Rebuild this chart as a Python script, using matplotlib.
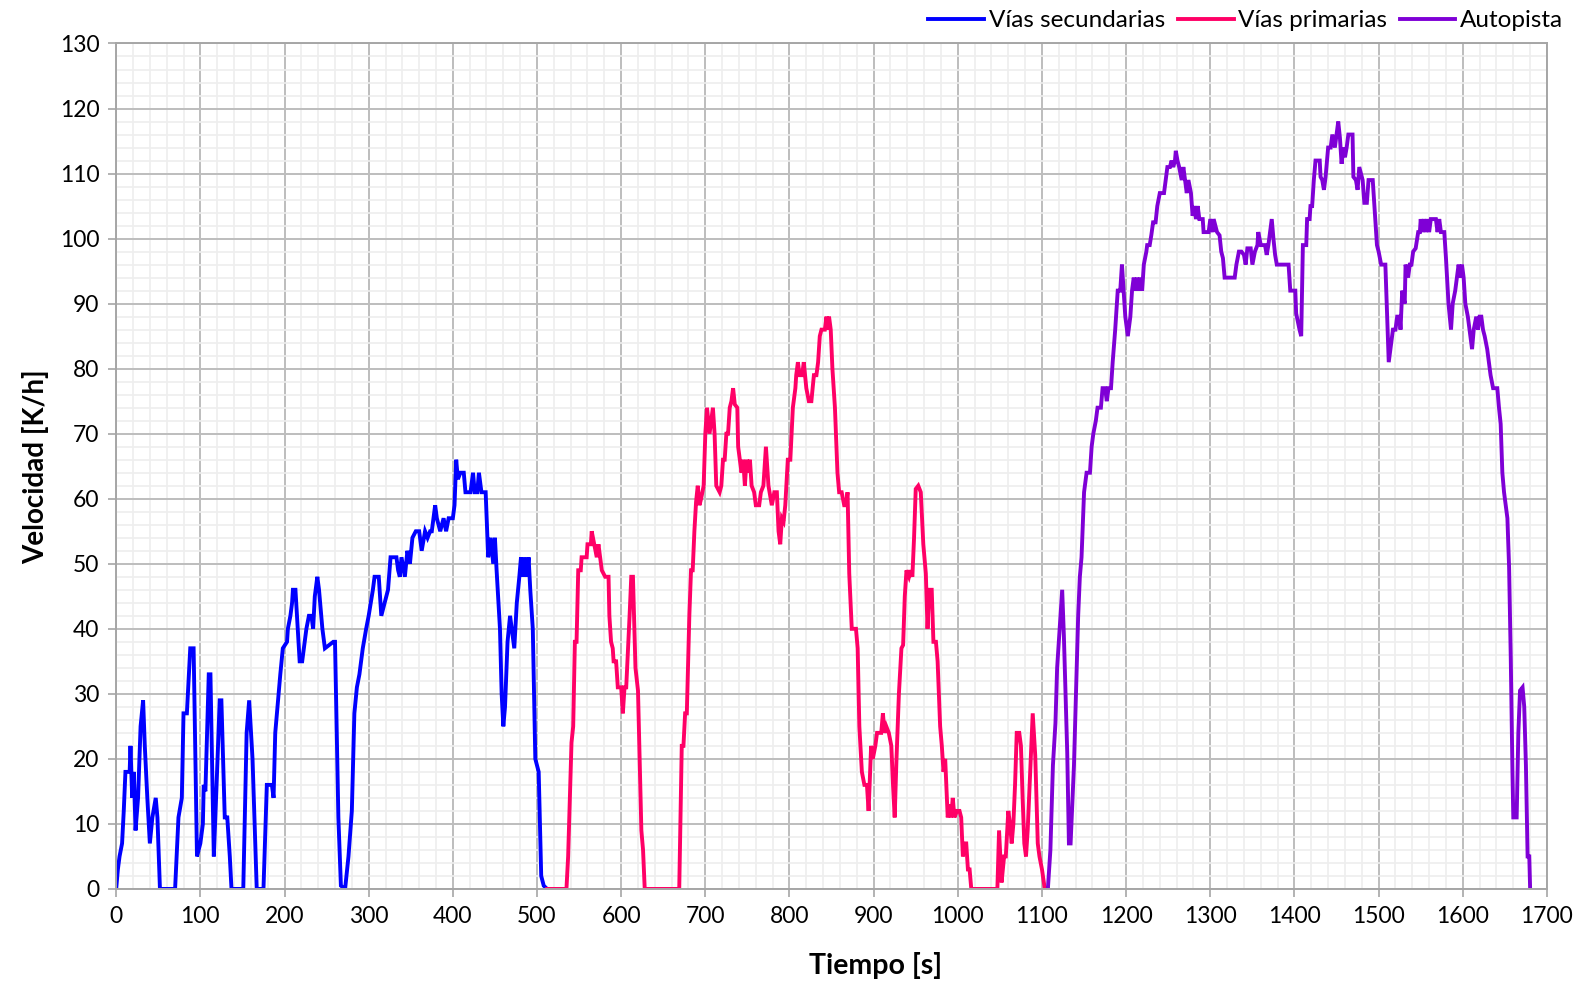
import matplotlib
matplotlib.use("Agg")
import matplotlib.pyplot as plt
from matplotlib.ticker import MultipleLocator

plt.rcParams['font.family'] = ['Lato', 'DejaVu Sans']

# Vías secundarias
t_sec = [0, 2, 4, 7, 9, 11, 16, 17, 19, 21, 23, 26, 29, 32, 34, 37, 40, 43, 47, 49,
         52, 70, 74, 78, 80, 84, 88, 92, 96, 100, 103, 104, 106, 110, 112, 116, 119,
         123, 125, 129, 132, 135, 137, 151, 155, 158, 162, 167, 175, 179, 185, 187,
         189, 193, 195, 198, 203, 204, 207, 209, 210, 213, 218, 221, 224, 226, 229,
         232, 234, 236, 239, 241, 245, 248, 258, 260, 264, 267, 272, 276, 280, 283,
         286, 289, 293, 297, 300, 305, 307, 312, 315, 319, 323, 326, 333, 335, 337,
         339, 343, 346, 349, 352, 356, 360, 363, 367, 370, 373, 375, 379, 381, 385,
         389, 392, 395, 400, 402, 404, 406, 409, 413, 415, 421, 424, 426, 429, 431,
         434, 439, 442, 445, 448, 450, 452, 456, 458, 460, 462, 465, 468, 470, 473,
         476, 479, 481, 483, 485, 488, 490, 492, 495, 498, 502, 505, 508, 512]
v_sec = [0, 3, 5, 7, 12, 18, 18, 22, 14, 18, 9, 14, 25, 29, 22, 14, 7, 11, 14, 11,
         0, 0, 11, 14, 27, 27, 37, 37, 5, 7, 10, 16, 15, 33, 33, 5, 15,
         29, 29, 11, 11, 5, 0, 0, 24, 29, 20, 0, 0, 16, 16, 14,
         24, 30, 33, 37, 38, 40, 42, 44, 46, 46, 35, 35, 38, 40, 42,
         42, 40, 45, 48, 46, 40, 37, 38, 38, 11, 0.5, 0, 5, 12, 27,
         31, 33, 37, 40, 42, 46, 48, 48, 42, 44, 46, 51, 51, 49, 48,
         51, 48, 52, 50, 54, 55, 55, 52, 55, 54, 55, 55, 59, 57, 55,
         57, 55, 57, 57, 59, 66, 63, 64, 64, 61, 61, 64, 61, 61, 64,
         61, 61, 51, 54, 50, 54, 49, 40, 30, 25, 28, 38, 42, 40, 37,
         44, 48, 51, 48, 51, 48, 51, 46, 40, 20, 18, 2, 0.5, 0]

# Vías primarias
t_pri = [512, 535, 537, 541, 543, 545, 547, 549, 552, 553, 559, 560, 564, 565, 568,
         571, 573, 575, 577, 581, 585, 586, 588, 590, 591, 594, 596, 600, 602, 604,
         606, 610, 612, 614, 617, 620, 624, 626, 628, 669, 672, 674, 676, 678, 681,
         683, 685, 687, 689, 691, 693, 695, 698, 700, 702, 705, 707, 709, 711, 713,
         717, 719, 721, 723, 725, 727, 729, 731, 733, 735, 738, 739, 741, 743, 745,
         747, 749, 751, 753, 755, 758, 760, 764, 766, 769, 772, 775, 779, 782, 785,
         787, 789, 791, 793, 795, 798, 801, 804, 807, 808, 810, 812, 815, 817, 820,
         823, 826, 829, 832, 834, 836, 838, 842, 844, 845, 847, 849, 851, 854, 857,
         859, 862, 865, 867, 869, 871, 874, 879, 881, 883, 886, 889, 892, 894, 897,
         899, 902, 904, 909, 911, 913, 915, 918, 921, 923, 925, 927, 930, 933, 935,
         937, 939, 942, 944, 946, 948, 950, 953, 956, 959, 962, 964, 966, 969, 971,
         974, 976, 979, 981, 983, 985, 988, 990, 992, 994, 996, 999, 1002, 1004, 1006,
         1008, 1010, 1012, 1014, 1016, 1047, 1049, 1052, 1055, 1057, 1060, 1062, 1064,
         1066, 1068, 1070, 1073, 1075, 1077, 1079, 1081, 1083, 1086, 1089, 1092, 1095,
         1097, 1100, 1103, 1107]
v_pri = [0, 0, 5, 22.5, 25, 38, 38, 49, 49, 51, 51, 53, 53, 55, 53,
         51, 53, 51, 49, 48, 48, 42, 38, 37, 35, 35, 31, 31, 27, 31,
         31, 42, 48, 48, 34, 30.5, 9, 6, 0, 0, 22, 22, 27, 27, 42,
         49, 49, 55, 59.5, 62, 59, 60, 62, 70, 74, 70, 72, 74, 70, 62,
         61, 62, 66, 66, 70, 70, 74, 75, 77, 74.5, 74, 68, 66, 64, 66,
         62, 66, 64, 66, 62, 61, 59, 59, 61, 62, 68, 62, 59, 61, 61,
         55, 53, 57, 56.5, 59, 66, 66, 74, 77, 79, 81, 79, 79, 81, 77,
         75, 75, 79, 79, 81, 85, 86, 86, 88, 86, 88, 86, 80, 74, 64,
         61, 61, 59, 59, 61, 48.5, 40, 40, 37, 25, 18, 16, 16, 12, 22,
         20, 22, 24, 24, 27, 24, 25, 24, 22, 16, 11, 19.5, 30, 37, 37.5,
         45, 49, 48, 49, 48, 54, 61.5, 62, 61, 53, 48.5, 40, 46, 46, 38,
         38, 35, 25, 22, 18, 20, 11, 13, 11, 14, 11, 12, 12, 11, 5,
         7, 7, 3, 3, 0, 0, 9, 1, 5, 5, 12, 10, 7,
         10, 16, 24, 24, 22, 14, 7, 5, 9, 18, 27, 20.5, 7,
         5, 3, 0.3, 0]

# Autopista
t_aut = [1107, 1110, 1113, 1116, 1118, 1121, 1124, 1126, 1130, 1132, 1134, 1138, 1142,
         1143, 1145, 1147, 1150, 1153, 1157, 1159, 1161, 1164, 1166, 1170, 1172, 1175,
         1177, 1179, 1182, 1184, 1187, 1190, 1193, 1195, 1197, 1199, 1202, 1205, 1207,
         1209, 1211, 1213, 1215, 1217, 1219, 1221, 1224, 1225, 1228, 1230, 1232, 1235,
         1237, 1240, 1245, 1247, 1249, 1252, 1254, 1256, 1258, 1259, 1261, 1263, 1266,
         1268, 1270, 1272, 1274, 1277, 1279, 1281, 1283, 1285, 1287, 1291, 1292, 1298,
         1300, 1303, 1304, 1308, 1311, 1313, 1315, 1317, 1329, 1331, 1334, 1337, 1340,
         1342, 1344, 1348, 1350, 1353, 1356, 1357, 1360, 1365, 1367, 1369, 1371, 1373,
         1375, 1377, 1379, 1393, 1395, 1401, 1402, 1406, 1408, 1410, 1414, 1415, 1418,
         1419, 1421, 1423, 1425, 1427, 1430, 1431, 1433, 1435, 1437, 1440, 1443, 1445,
         1448, 1450, 1452, 1454, 1456, 1458, 1460, 1462, 1464, 1469, 1470, 1473, 1475,
         1477, 1481, 1483, 1486, 1488, 1493, 1496, 1498, 1500, 1503, 1508, 1510, 1512,
         1515, 1517, 1520, 1522, 1525, 1526, 1528, 1531, 1532, 1535, 1537, 1539, 1541,
         1544, 1547, 1549, 1550, 1552, 1554, 1556, 1558, 1560, 1562, 1568, 1570, 1572,
         1574, 1578, 1580, 1583, 1586, 1588, 1591, 1593, 1595, 1597, 1599, 1601, 1603,
         1606, 1608, 1611, 1613, 1616, 1618, 1620, 1622, 1624, 1626, 1629, 1631, 1633,
         1636, 1641, 1643, 1645, 1647, 1649, 1651, 1653, 1655, 1657, 1659, 1660, 1664,
         1666, 1668, 1671, 1673, 1675, 1677, 1679, 1680]
v_aut = [0, 6, 19, 25.5, 34, 40, 46, 39, 21, 7, 7, 19, 37.5,
         42, 48, 51, 61, 64, 64, 68, 70, 72, 74, 74, 77, 77,
         75, 77, 77, 81, 86, 92, 92, 96, 92, 88, 85, 88, 92,
         94, 92, 94, 92, 94, 92, 96, 98, 99, 99, 100.6, 102.5, 102.5,
         105, 107, 107, 109, 111, 111, 112, 111, 112, 113.5, 112, 111, 109,
         111, 109, 107, 109, 107, 103.5, 105, 103, 105, 103, 103, 101, 101,
         103, 101, 103, 101, 100.5, 98, 97, 94, 94, 96, 98, 98, 97.5,
         96, 98.5, 98.5, 96, 98, 99, 101, 99, 99, 97.5, 99, 101, 103,
         100, 97.5, 96, 96, 92, 92, 88.5, 86, 85, 99, 99, 103, 103,
         105, 105, 109, 112, 112, 112, 109.5, 109, 107.5, 109.5, 114, 114, 116,
         114, 116, 118, 115.5, 111.5, 114, 112.5, 114, 116, 116, 109.5, 109, 107.5,
         111, 109, 105.5, 105.5, 109, 109, 103, 99, 98, 96, 96, 88.5, 81,
         84, 86, 86, 88, 88, 86, 92, 90, 96, 94, 96, 96, 98,
         98.5, 101, 101, 103, 101, 103, 101, 103, 101, 103, 103, 101, 103,
         101, 101, 97, 90, 86, 90, 92, 94, 96, 94, 96, 94, 90,
         88, 86, 83, 86, 88, 86, 88, 88, 86, 85, 83, 81, 79,
         77, 77, 74, 71.5, 64, 61, 59, 57, 49.5, 35.5, 18, 11, 11,
         24, 30.5, 31, 28, 19, 5, 5, 0]

series = [
    (t_sec, v_sec, '#0000FF', 'Vías secundarias'),
    (t_pri, v_pri, '#FF0066', 'Vías primarias'),
    (t_aut, v_aut, '#7F00D6', 'Autopista'),
]

fig = plt.figure(figsize=(15.85, 9.84), dpi=100)
ax = fig.add_axes([0.0733, 0.0966, 0.9027, 0.8592])

for t, v, color, label in series:
    ax.plot(t, v, color=color, linewidth=2.8, label=label, solid_joinstyle='miter')

ax.set_xlim(0, 1700)
ax.set_ylim(0, 130)
ax.xaxis.set_major_locator(MultipleLocator(100))
ax.xaxis.set_minor_locator(MultipleLocator(20))
ax.yaxis.set_major_locator(MultipleLocator(10))
ax.yaxis.set_minor_locator(MultipleLocator(2))

ax.grid(which='minor', color='#EEEEEE', linewidth=1.2)
ax.grid(which='major', color='#BDBDBD', linewidth=1.4)
ax.set_axisbelow(True)

for sp in ax.spines.values():
    sp.set_color('#A6A6A6')
    sp.set_linewidth(1.4)

ax.tick_params(axis='both', which='major', labelsize=16.5, length=6,
               width=1.2, color='#A6A6A6', direction='out', pad=6)
ax.tick_params(axis='both', which='minor', length=0)

ax.set_xlabel('Tiempo [s]', fontsize=20.5, fontweight='bold')
ax.xaxis.set_label_coords(0.531, -0.075)
ax.set_ylabel('Velocidad [K/h]', fontsize=20, fontweight='bold', labelpad=8)

ax.legend(loc='lower right', bbox_to_anchor=(1.02, 1.0), ncol=3, frameon=False,
          fontsize=17.5, handlelength=2.3, handletextpad=0.2, columnspacing=0.5,
          borderpad=0.0)

fig.savefig('out.png', dpi=100)
